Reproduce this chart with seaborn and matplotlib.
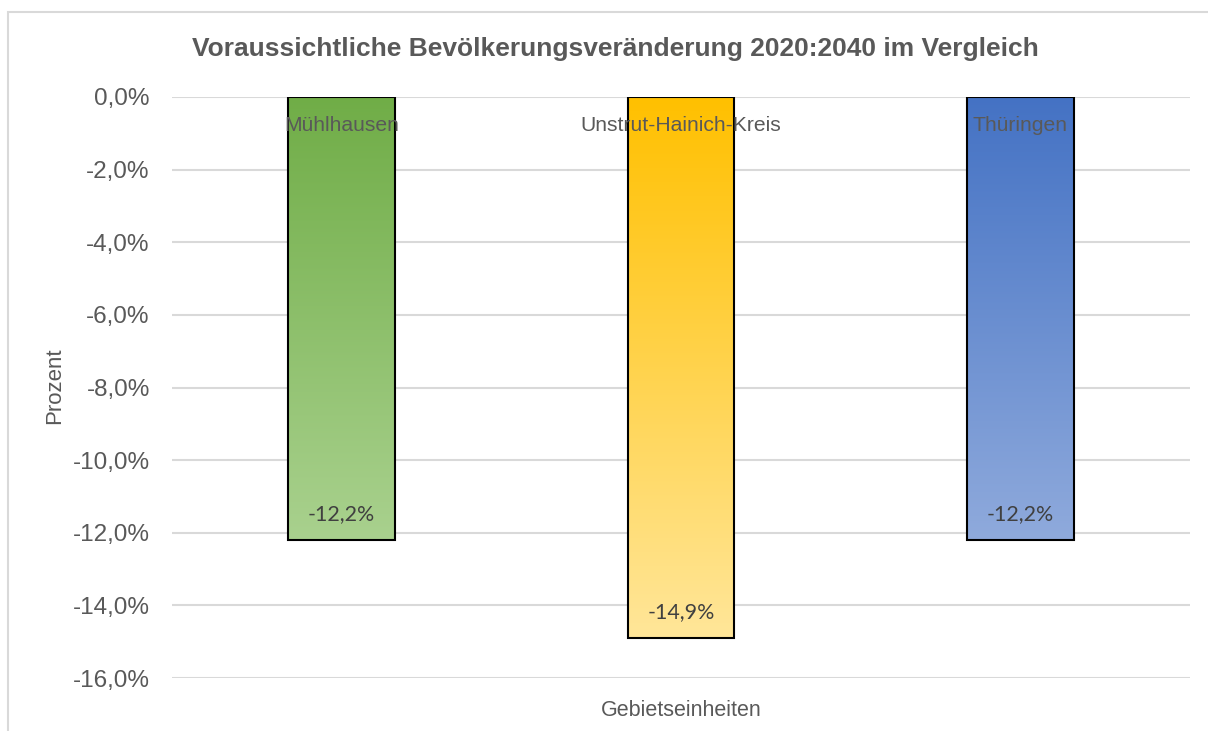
import numpy as np
import pandas as pd
import matplotlib
matplotlib.use("Agg")
import matplotlib.pyplot as plt
from matplotlib.colors import LinearSegmentedColormap
from matplotlib.patches import Rectangle
import seaborn as sns

categories = ["Mühlhausen", "Unstrut-Hainich-Kreis", "Thüringen"]
values = [-12.2, -14.9, -12.2]
top_colors = ["#70AD47", "#FFC000", "#4472C4"]
bottom_colors = ["#A9D18E", "#FFE699", "#8FAADC"]
yticks = [0, -2, -4, -6, -8, -10, -12, -14, -16]

sns.set_theme(style="white")
plt.rcParams["font.family"] = ["Liberation Sans", "DejaVu Sans"]

df = pd.DataFrame({"Gebiet": categories, "Prozent": values})

fig = plt.figure(figsize=(12.08, 7.31), dpi=100)
ax = fig.add_axes([172/1208, 1-678/731, (1190-172)/1208, (678-97)/731])

sns.barplot(data=df, x="Gebiet", y="Prozent", ax=ax, width=0.315,
            color="white", edgecolor="black", linewidth=1.5, zorder=3)

ax.set_ylim(-16, 0)
ax.set_yticks(yticks)
ax.set_yticklabels([f"{v:.1f}%".replace(".", ",") for v in yticks])
ax.set_axisbelow(True)
ax.grid(axis="y", color="#D9D9D9", linewidth=1.5)
ax.grid(axis="x", visible=False)
for s in ax.spines.values():
    s.set_visible(False)
ax.tick_params(axis="y", length=0, labelsize=17.5, labelcolor="#595959", pad=16)

# gradients
for i, patch in enumerate(ax.patches[:len(values)]):
    x0, y0 = patch.get_x(), patch.get_y()
    w, h = patch.get_width(), patch.get_height()
    cmap = LinearSegmentedColormap.from_list(f"g{i}", [top_colors[i], bottom_colors[i]])
    grad = np.linspace(0, 1, 256).reshape(-1, 1)
    ymin, ymax = min(y0, y0 + h), max(y0, y0 + h)
    im = ax.imshow(grad, cmap=cmap, aspect="auto", extent=[x0, x0 + w, ymin, ymax],
                   origin="upper", zorder=2.5)
    im.set_clip_path(patch)
    patch.set_facecolor("none")
    ax.text(x0 + w / 2, values[i] + 0.72, f"{values[i]:.1f}%".replace(".", ","),
            ha="center", va="center", fontsize=15.4, color="#404040",
            family=["Lato", "DejaVu Sans"], zorder=4)

ax.set_xlim(-0.5, len(values) - 0.5)
ax.set_ylim(-16, 0)

# category labels just below the 0 line
ax.set_xticks([])
for i, c in enumerate(categories):
    ax.text(i, -0.78, c, ha="center", va="center", fontsize=15.2, color="#595959", zorder=4)

ax.set_xlabel("")
ax.set_ylabel("")
fig.text(681/1208, 1 - 711/731, "Gebietseinheiten", ha="center", va="center",
         fontsize=15.5, color="#595959")
fig.text(55/1208, 1 - 386/731, "Prozent", ha="center", va="center", rotation=90,
         fontsize=16, color="#595959")
fig.text(615/1208, 1 - 49/731, "Voraussichtliche Bevölkerungsveränderung 2020:2040 im Vergleich",
         ha="center", va="center", fontsize=19, fontweight="bold", color="#595959")

fig.patches.append(Rectangle((8/1208, -0.1), 1.2, 1 - 12/731 + 0.1, transform=fig.transFigure,
                             fill=False, edgecolor="#D9D9D9", linewidth=1.5))

fig.savefig("out.png", dpi=100)
